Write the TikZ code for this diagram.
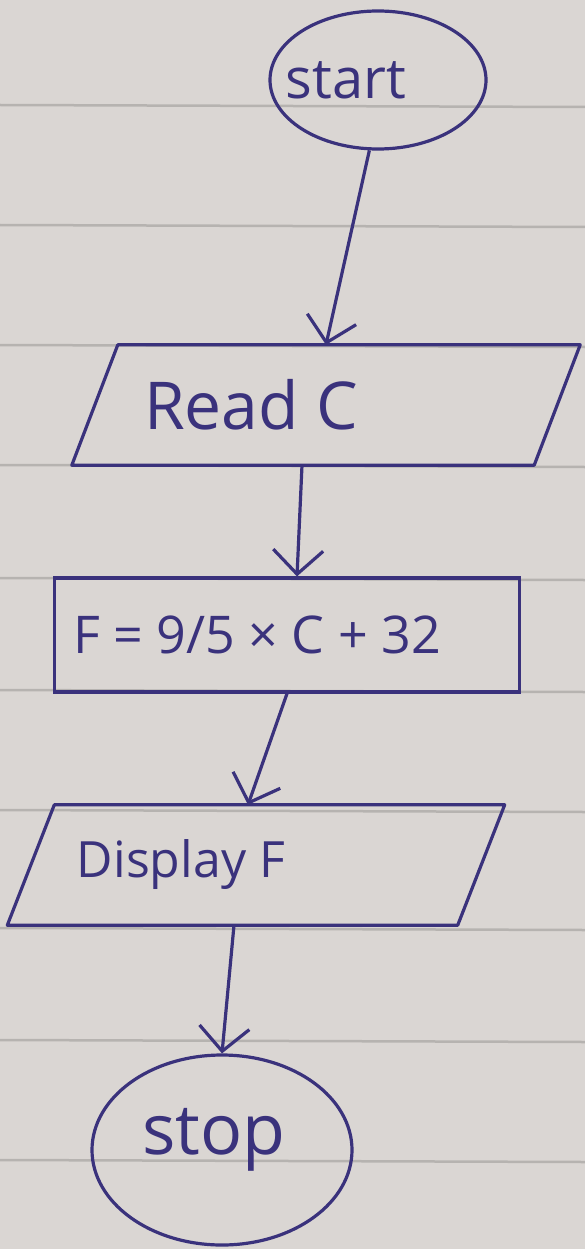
\documentclass[tikz,border=0pt]{standalone}
\usepackage{fontspec}
\setmainfont{Open Sans}
\usetikzlibrary{shapes.geometric,arrows.meta}

\definecolor{ink}{RGB}{58,50,124}
\definecolor{paper}{RGB}{218,214,211}
\definecolor{ruling}{RGB}{182,179,176}

\tikzset{
  terminal/.style={ellipse,draw=ink,line width=3.2pt,inner sep=0pt},
  % io boxes: the node only holds the place, the slanted outline is drawn below
  io/.style={rectangle,inner sep=0pt,minimum height=120pt},
  process/.style={rectangle,draw=ink,line width=3.2pt,inner sep=0pt},
  outline/.style={draw=ink,line width=3.2pt,line join=round},
  flow/.style={draw=ink,line width=3.2pt,-{Straight Barb[length=24pt,width=50pt]}},
  hand/.style={text=ink,font=\fontsize{66}{70}\selectfont}
}

\begin{document}
\begin{tikzpicture}[x=1pt, y=-1pt]
        % sheet of ruled paper
        \fill[paper] (0,0) rectangle (585,1249);
        \useasboundingbox (0,0) rectangle (585,1249);
        \foreach \ry in {105,225,345,465,578,690,810,928,1040,1160}
            \draw[ruling,line width=2.5pt] (0,\ry) -- (585,\ry+2);

        \node[terminal,minimum width=216pt,minimum height=138pt,
              label={[hand,xshift=-32pt,font=\fontsize{56}{60}\selectfont]center:start}] (start) at (378,80) {};
        \node[io,minimum width=508pt,
              label={[hand,xshift=-75pt]center:Read C}] (read) at (326,405) {};
        \node[process,minimum width=465pt,minimum height=114pt,
              label={[hand,xshift=-30pt,font=\fontsize{52}{56}\selectfont]center:F = 9/5 × C + 32}] (calc) at (287,635) {};
        \node[io,minimum width=497pt,
              label={[hand,xshift=-75pt,font=\fontsize{50}{54}\selectfont]center:Display F}] (disp) at (256,865) {};
        \node[terminal,minimum width=260pt,minimum height=190pt,
              label={[hand,xshift=-8pt,yshift=10pt,font=\fontsize{70}{74}\selectfont]center:stop}] (stop) at (222,1150) {};

        \draw[outline] ([xshift=46pt]read.north west) -- (read.north east)
            -- ([xshift=-46pt]read.south east) -- (read.south west) -- cycle;
        \draw[outline] ([xshift=47pt]disp.north west) -- (disp.north east)
            -- ([xshift=-47pt]disp.south east) -- (disp.south west) -- cycle;

        \draw[flow] (start.-97) -- (read.north);
        \draw[flow] ([xshift=-24pt]read.south) -- ([xshift=10pt]calc.north);
        \draw[flow] (calc.south) -- ([xshift=-8pt]disp.north);
        \draw[flow] ([xshift=-22pt]disp.south) -- (stop.north);
    \end{tikzpicture}
\end{document}
